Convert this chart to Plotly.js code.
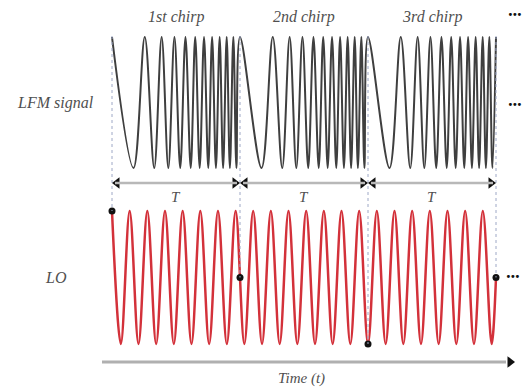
<!DOCTYPE html>
<html><head><meta charset="utf-8">
<script src="https://cdn.plot.ly/plotly-3.0.1.min.js"></script>
<style>html,body{margin:0;padding:0;background:#fff;}#chart{width:525px;height:390px;}</style>
</head><body><div id="chart"></div>
<script>
// ---------- data (time in units of T) ----------
const chirpLabels = ['1st chirp', '2nd chirp', '3rd chirp'];
const chirpStarts = [0, 1, 2];
const periodLabel = 'T';
// LFM extrema inside one chirp (same for every chirp)
const lfmPeakT   = [0, 0.256, 0.388, 0.488, 0.574, 0.650, 0.719, 0.782, 0.841, 0.896, 0.948];
const lfmTroughT = [0.168, 0.330, 0.440, 0.533, 0.615, 0.685, 0.752, 0.812, 0.868, 0.921, 0.972];
const lfmEndT = [3], lfmEndV = [1];
// LO extrema over the three chirps
const loPeakT = [0, 0.138, 0.276, 0.414, 0.552, 0.690, 0.828, 0.966, 1.103, 1.241, 1.379,
                 1.517, 1.655, 1.793, 1.931, 2.069, 2.207, 2.345, 2.483, 2.621, 2.759, 2.897];
const loTroughT = [0.069, 0.207, 0.345, 0.483, 0.621, 0.759, 0.897, 1.034, 1.172, 1.310, 1.448,
                   1.586, 1.724, 1.862, 2.000, 2.138, 2.276, 2.414, 2.552, 2.690, 2.828, 2.966];
const loEndT = [3], loEndV = [0];
// LO phase markers at chirp boundaries
const loMarkT = [0, 1, 2, 3];
const loMarkV = [1, 0, -1, 0];
const lfmLabel = 'LFM signal', loLabel = 'LO', timeLabel = 'Time (t)';

// ---------- build series ----------
function merge(peaks, troughs) {
  return peaks.map(t => [t, 1]).concat(troughs.map(t => [t, -1])).sort((a, b) => a[0] - b[0]);
}
const lfmX = [], lfmY = [];
const oneChirp = merge(lfmPeakT, lfmTroughT);
chirpStarts.forEach(c => oneChirp.forEach(([t, v]) => { lfmX.push(c + t); lfmY.push(v); }));
lfmEndT.forEach((t, i) => { lfmX.push(t); lfmY.push(lfmEndV[i]); });
const loX = [], loY = [];
merge(loPeakT, loTroughT).forEach(([t, v]) => { loX.push(t); loY.push(v); });
loEndT.forEach((t, i) => { loX.push(t); loY.push(loEndV[i]); });

// ---------- geometry (pixels) ----------
const W = 525, H = 390, X0 = 112, TPX = 128;
const LFM_C = 102.5, LFM_A = 65.5, LO_C = 277.5, LO_A = 66.5;
const PAD = 1.12;
function dom(c, a) { return [1 - (c + a * PAD) / H, 1 - (c - a * PAD) / H]; }
const loPx = v => LO_C - LO_A * v;
const pxT = px => (px - X0) / TPX;
const ARROW_Y = 183, TLAB_Y = 197, CLAB_Y = 17, AXIS_Y = 362;

const serif = 'Times New Roman';
const txtCol = '#505050';

const traces = [
  {x: lfmX, y: lfmY, yaxis: 'y', mode: 'lines', line: {color: '#3f3f3f', width: 2, shape: 'spline', smoothing: 1}, hoverinfo: 'skip'},
  {x: loX, y: loY, yaxis: 'y2', mode: 'lines', line: {color: '#d3313a', width: 2.5, shape: 'spline', smoothing: 1}, hoverinfo: 'skip'},
  {x: loMarkT, y: loMarkV, yaxis: 'y2', mode: 'markers', cliponaxis: false, marker: {color: '#111', size: 7}, hoverinfo: 'skip'}
];
// arrow heads for T spans and the time axis
const headX = [], headY = [], headS = [];
chirpStarts.forEach(c => {
  headX.push(c + pxT(X0 + 5)); headY.push(ARROW_Y); headS.push('triangle-left');
  headX.push(c + 1 - pxT(X0 + 5)); headY.push(ARROW_Y); headS.push('triangle-right');
});
headX.push(pxT(510)); headY.push(AXIS_Y); headS.push('triangle-right');
traces.push({x: headX, y: headY, yaxis: 'y3', mode: 'markers', cliponaxis: false,
  marker: {color: '#111', size: 10, symbol: headS}, hoverinfo: 'skip'});

const shapes = [];
// vertical dotted guides
loMarkT.forEach((t, i) => shapes.push({type: 'line', xref: 'x', yref: 'y3', x0: t, x1: t,
  y0: LFM_C - LFM_A - 1, y1: loPx(loMarkV[i]), line: {color: '#9ea8c6', width: 1, dash: 'dot'}, layer: 'below'}));
// T span shafts
chirpStarts.forEach(c => shapes.push({type: 'line', xref: 'x', yref: 'y3', x0: c + pxT(X0 + 3), x1: c + 1 - pxT(X0 + 3),
  y0: ARROW_Y, y1: ARROW_Y, line: {color: '#b8b8b8', width: 2.5}}));
// time axis
shapes.push({type: 'line', xref: 'x', yref: 'y3', x0: pxT(102), x1: pxT(506), y0: AXIS_Y, y1: AXIS_Y,
  line: {color: '#b0b0b0', width: 3}});

const annotations = [];
const ann = (x, y, text, size, col) => ({x: x, y: y, xref: 'x', yref: 'y3', text: text, showarrow: false,
  font: {family: serif, size: size, color: col || txtCol, style: 'italic'}, xanchor: 'center', yanchor: 'middle'});
chirpStarts.forEach((c, i) => {
  annotations.push(ann(c + 0.5, CLAB_Y, chirpLabels[i], 16));
  annotations.push(ann(c + 0.5, TLAB_Y, periodLabel, 15));
});
annotations.push(ann(pxT(55), LFM_C, lfmLabel, 16));
annotations.push(ann(pxT(56), LO_C, loLabel, 16));
annotations.push(ann(pxT(301), 378, timeLabel, 15));
const dots = '<b>···</b>';
annotations.push(ann(pxT(515), 15, dots, 18, '#111'));
annotations.push(ann(pxT(515), 105, dots, 18, '#111'));
annotations.push(ann(pxT(513), 277, dots, 18, '#111'));

const hidden = {visible: false, showgrid: false, zeroline: false, fixedrange: true};
const layout = {
  width: W, height: H, margin: {l: 0, r: 0, t: 0, b: 0},
  font: {family: serif},
  paper_bgcolor: '#fff', plot_bgcolor: 'rgba(0,0,0,0)', showlegend: false,
  xaxis: Object.assign({}, hidden, {range: [pxT(0), pxT(W)], domain: [0, 1], anchor: 'y'}),
  yaxis: Object.assign({}, hidden, {range: [-PAD, PAD], domain: dom(LFM_C, LFM_A), anchor: 'x'}),
  yaxis2: Object.assign({}, hidden, {range: [-PAD, PAD], domain: dom(LO_C, LO_A), anchor: 'x'}),
  yaxis3: Object.assign({}, hidden, {range: [H, 0], domain: [0, 1], anchor: 'x'}),
  shapes: shapes, annotations: annotations
};
Plotly.newPlot('chart', traces, layout, {staticPlot: true, displayModeBar: false});
</script></body></html>
